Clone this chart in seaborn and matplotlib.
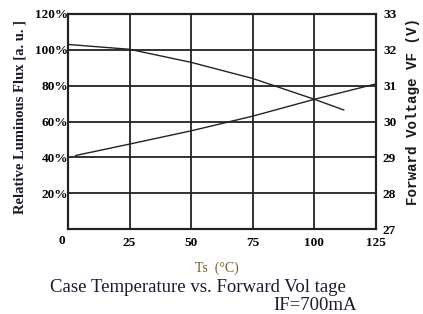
import matplotlib
matplotlib.use("Agg")
import matplotlib.pyplot as plt
import matplotlib.transforms as mtransforms
import seaborn as sns
import pandas as pd

# Data
temp_flux = [0, 25, 50, 75, 100, 112]
flux = [103.0, 100.3, 93.0, 84.0, 72.4, 66.4]
temp_vf = [3, 25, 50, 75, 100, 125]
vf = [29.05, 29.37, 29.74, 30.15, 30.62, 31.05]

x_ticks = [0, 25, 50, 75, 100, 125]
x_labels = ["0", "25", "50", "75", "100", "125"]
flux_ticks = [20, 40, 60, 80, 100, 120]
flux_labels = ["20%", "40%", "60%", "80%", "100%", "120%"]
vf_ticks = [27, 28, 29, 30, 31, 32, 33]
vf_labels = ["27", "28", "29", "30", "31", "32", "33"]

sns.set_theme(style="white")
plt.rcParams['font.family'] = ['Liberation Serif', 'DejaVu Serif']

fig = plt.figure(figsize=(4.23, 3.14), dpi=100)
ax = fig.add_axes([68/423, 1-229/314, (376-68)/423, (229-14)/314])
ax2 = ax.twinx()

df_flux = pd.DataFrame({"T": temp_flux, "v": flux})
df_vf = pd.DataFrame({"T": temp_vf, "v": vf})
sns.lineplot(data=df_flux, x="T", y="v", ax=ax, color="#222222", lw=1.0)
sns.lineplot(data=df_vf, x="T", y="v", ax=ax2, color="#222222", lw=1.0)

ax.set_xlim(0, 125)
ax.set_ylim(0, 120)
ax2.set_ylim(27, 33)

for xv in x_ticks[1:-1]:
    ax.axvline(xv, color="#222222", lw=1.3, zorder=0)
for yv in flux_ticks[:-1]:
    ax.axhline(yv, color="#222222", lw=1.3, zorder=0)

ax.set_xticks(x_ticks)
ax.set_xticklabels(x_labels, fontsize=9.5, fontweight="bold")
ax.set_yticks(flux_ticks)
ax.set_yticklabels(flux_labels, fontsize=9.5, fontweight="bold")
ax2.set_yticks(vf_ticks)
ax2.set_yticklabels(vf_labels, fontsize=9.5, fontweight="bold")
ax.tick_params(axis="x", length=0, pad=6, colors="black")
ax.tick_params(axis="y", length=0, pad=0, colors="black")
ax2.tick_params(axis="y", length=0, pad=5, colors="black")

# shift the origin "0" label slightly left
lbl0 = ax.get_xticklabels()[0]
lbl0.set_transform(lbl0.get_transform() + mtransforms.ScaledTranslation(-6/100, 2/100, fig.dpi_scale_trans))

ax.set_xlabel("")
ax.set_ylabel("")
ax2.set_ylabel("")

for a in (ax, ax2):
    for s in a.spines.values():
        s.set_color("#222222")
        s.set_linewidth(1.5)

fig.text(20/423, 1-117/314, "Relative Luminous Flux [a. u. ]", rotation=90,
         ha="center", va="center", fontsize=10.5, fontweight="bold", color="#1a1a2a")
fig.text(413/423, 1-112/314, "Forward Voltage VF (V)", rotation=90,
         ha="center", va="center", fontsize=10.3, fontweight="bold",
         family=["Liberation Mono", "DejaVu Sans Mono"], color="#1a1a1a")
fig.text(217/423, 1-268/314, "Ts  (°C)", ha="center", va="center",
         fontsize=10, color="#7a5a22")
fig.text(50/423, 1-287/314, "Case Temperature vs. Forward Vol tage", ha="left", va="center",
         fontsize=13.5, color="#1a1a30")
fig.text(357/423, 1-306/314, "IF=700mA", ha="right", va="center",
         fontsize=13.5, color="#1a1a30")

fig.savefig("out.png", dpi=100, facecolor="white")
